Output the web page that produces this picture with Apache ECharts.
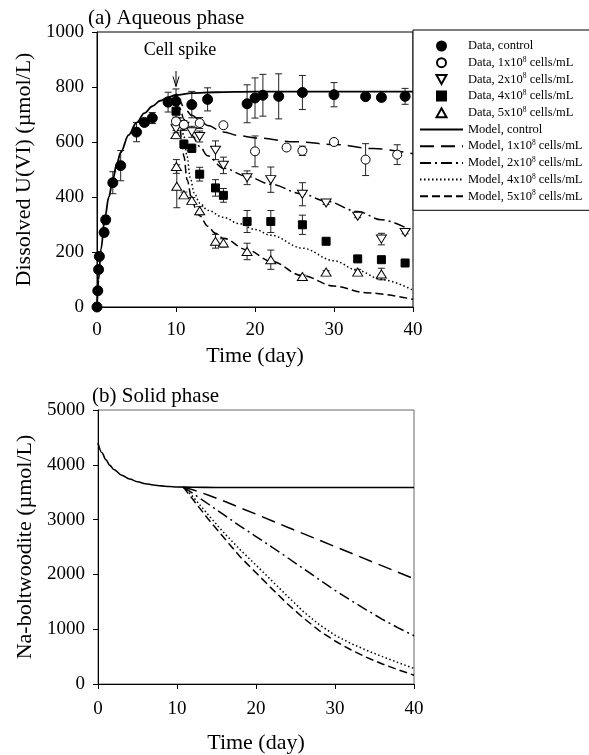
<!DOCTYPE html>
<html>
<head>
<meta charset="utf-8">
<script src="https://cdn.jsdelivr.net/npm/echarts@6/dist/echarts.min.js"></script>
<style>
html,body{margin:0;padding:0;background:#fff;}
#chart{width:589px;height:755px;}
</style>
</head>
<body>
<div id="chart"></div>
<script>
// ---------- Data (a) Aqueous phase ----------
const ctrlDays = [0, 0.1, 0.2, 0.3, 0.9, 1.1, 2, 3, 5, 6, 7, 9, 10, 12, 14, 19, 20, 21, 23, 26, 30, 34, 36, 39];
const ctrlVals = [0, 59, 136, 184, 271, 317, 452, 514, 636, 671, 687, 745, 748, 736, 755, 739, 760, 770, 766, 780, 772, 765, 762, 766];
const ctrlErrs = [0, 0, 0, 12, 15, 15, 40, 55, 35, 10, 20, 36, 45, 48, 42, 69, 73, 76, 82, 62, 44, 8, 12, 29];

const c1Days = [10, 11, 13, 16, 20, 24, 26, 30, 34, 38];
const c1Vals = [675, 663, 669, 661, 566, 580, 568, 600, 536, 554];
const c1Errs = [15, 15, 20, 5, 56, 5, 17, 5, 58, 36];

const c2Days = [10, 11, 12, 13, 15, 16, 19, 22, 26, 29, 33, 36, 39];
const c2Vals = [648, 657, 637, 620, 570, 515, 470, 463, 410, 378, 330, 247, 271];
const c2Errs = [15, 15, 20, 20, 34, 30, 25, 46, 42, 5, 5, 21, 5];

const c4Days = [10, 11, 12, 13, 15, 16, 19, 22, 26, 29, 33, 36, 39];
const c4Vals = [712, 592, 577, 483, 433, 406, 311, 311, 299, 239, 175, 172, 160];
const c4Errs = [30, 15, 15, 25, 30, 25, 40, 40, 35, 0, 0, 0, 0];

const c5Days = [10, 10.05, 10.1, 11, 12, 13, 15, 16, 19, 22, 26, 29, 33, 36];
const c5Vals = [627, 511, 439, 408, 388, 350, 239, 233, 202, 172, 111, 127, 127, 120];
const c5Errs = [15, 25, 78, 10, 10, 15, 25, 15, 30, 35, 5, 5, 10, 21];

// Model curves (aqueous)
const mCtrlX = [0, 0.2, 0.5, 1, 1.5, 2, 2.5, 3, 4, 5, 6, 7, 8, 9, 10, 12, 15, 20, 25, 30, 35, 40];
const mCtrlY = [0, 99, 210, 325, 400, 463, 520, 562, 625, 670, 705, 730, 750, 763, 771, 778, 781, 783, 783, 783, 783, 783];
const m1X = [10, 10.5, 11, 12, 13, 14, 16, 18, 20, 25, 30, 35, 40];
const m1Y = [775, 748, 725, 697, 680, 660, 636, 623, 615, 601, 591, 576, 557];
const m2X = [10, 10.5, 11, 11.5, 12, 13, 14, 16, 19, 22, 26, 29, 33, 36, 40];
const m2Y = [775, 722, 683, 652, 625, 584, 550, 505, 475, 446, 411, 385, 347, 317, 275];
const m4X = [10, 10.5, 11, 11.4, 11.8, 12.3, 13, 14, 16, 18, 20, 22, 26, 30, 33, 36, 40];
const m4Y = [775, 700, 620, 548, 470, 415, 378, 352, 326, 303, 282, 261, 214, 168, 133, 100, 61];
const m5X = [10, 10.4, 10.7, 11, 11.4, 12, 12.5, 13, 14, 15, 16, 19, 22, 26, 30, 34, 40];
const m5Y = [775, 690, 610, 548, 463, 392, 358, 332, 294, 268, 250, 208, 167, 114, 76, 52, 28];

// ---------- Data (b) Solid phase ----------
const sCtrlX = [0, 0.5, 1, 1.5, 2, 3, 4, 5, 6, 7, 8, 9, 10, 12, 15, 20, 30, 40];
const sCtrlY = [4400, 4220, 4090, 3990, 3915, 3810, 3740, 3690, 3655, 3632, 3615, 3603, 3595, 3590, 3587, 3585, 3585, 3585];
const s1X = [10.8, 12, 13, 14, 16, 18, 20, 24, 28, 32, 36, 40];
const s1Y = [3592, 3545, 3495, 3445, 3335, 3215, 3100, 2860, 2625, 2390, 2155, 1920];
const s2X = [10.8, 12, 14, 16, 18, 20, 22, 24, 26, 28, 30, 32, 34, 36, 38, 40];
const s2Y = [3592, 3480, 3280, 3080, 2880, 2690, 2500, 2305, 2105, 1905, 1710, 1525, 1350, 1180, 1025, 880];
const s4X = [10.8, 12, 14, 16, 18, 20, 22, 24, 26, 28, 30, 32, 34, 36, 38, 40];
const s4Y = [3592, 3420, 3080, 2750, 2450, 2170, 1885, 1600, 1320, 1085, 890, 740, 615, 500, 390, 285];
const s5X = [10.8, 12, 14, 16, 18, 20, 22, 24, 26, 28, 30, 32, 34, 36, 38, 40];
const s5Y = [3592, 3370, 3000, 2660, 2320, 2030, 1740, 1460, 1205, 975, 785, 625, 485, 365, 260, 160];

const xTicks = [0, 10, 20, 30, 40];
const yTicksA = [0, 200, 400, 600, 800, 1000];
const yTicksB = [0, 1000, 2000, 3000, 4000, 5000];

const names = {
  dC: 'Data, control', d1: 'Data, 1x10^8 cells/mL', d2: 'Data, 2x10^8 cells/mL',
  d4: 'Data, 4x10^8 cells/mL', d5: 'Data, 5x10^8 cells/mL',
  mC: 'Model, control', m1: 'Model, 1x10^8 cells/mL', m2: 'Model, 2x10^8 cells/mL',
  m4: 'Model, 4x10^8 cells/mL', m5: 'Model, 5x10^8 cells/mL'
};

// ---------- Helpers ----------
const FONT = "'Liberation Serif', 'Times New Roman', serif";
const zip = (xs, ys) => xs.map((x, i) => [x, ys[i]]);
const errData = (xs, ys, es) => xs.map((x, i) => [x, ys[i] - es[i], ys[i] + es[i]]).filter((d, i) => es[i] > 0);

function errSeries(xs, ys, es) {
  return {
    type: 'custom', xAxisIndex: 0, yAxisIndex: 0, z: 1, silent: true,
    data: errData(xs, ys, es),
    renderItem: function (params, api) {
      const x = api.value(0);
      const lo = api.coord([x, api.value(1)]);
      const hi = api.coord([x, api.value(2)]);
      const h = 3.5;
      const st = { stroke: '#222', lineWidth: 1 };
      return {
        type: 'group', children: [
          { type: 'line', shape: { x1: lo[0], y1: lo[1], x2: hi[0], y2: hi[1] }, style: st },
          { type: 'line', shape: { x1: lo[0] - h, y1: lo[1], x2: lo[0] + h, y2: lo[1] }, style: st },
          { type: 'line', shape: { x1: hi[0] - h, y1: hi[1], x2: hi[0] + h, y2: hi[1] }, style: st }
        ]
      };
    }
  };
}

function scatter(name, xs, ys, symbol, size, fill) {
  return {
    name: name, type: 'scatter', xAxisIndex: 0, yAxisIndex: 0, z: 3,
    symbol: symbol, symbolSize: size, symbolKeepAspect: true,
    itemStyle: { color: fill, borderColor: '#000', borderWidth: 1, opacity: 1 },
    data: zip(xs, ys)
  };
}

function line(name, xs, ys, grid, dash, width, smooth) {
  return {
    name: name, type: 'line', xAxisIndex: grid, yAxisIndex: grid, z: 2,
    showSymbol: false, symbol: 'none', smooth: smooth, smoothMonotone: 'x',
    lineStyle: { color: '#000', width: width, type: dash },
    itemStyle: { color: '#000' },
    data: zip(xs, ys)
  };
}

const dashes = {
  c: 'solid', d1: [14, 7], d2: [11, 4, 2, 4], d4: [1.5, 2.5], d5: [8, 4]
};

function xAxis(grid, gap, margin) {
  return {
    type: 'value', gridIndex: grid, min: xTicks[0], max: xTicks[xTicks.length - 1],
    interval: xTicks[1] - xTicks[0],
    name: 'Time (day)', nameLocation: 'middle', nameGap: gap,
    nameTextStyle: { fontFamily: FONT, fontSize: 22, color: '#000' },
    axisLine: { show: true, onZero: false, lineStyle: { color: '#000', width: 1 } },
    axisTick: { show: true, inside: false, length: 5, lineStyle: { color: '#000' } },
    axisLabel: { fontFamily: FONT, fontSize: 19, color: '#000', margin: margin, formatter: v => String(v) },
    splitLine: { show: false }
  };
}
function yAxis(grid, ticks, name, gap) {
  return {
    type: 'value', gridIndex: grid, min: ticks[0], max: ticks[ticks.length - 1],
    interval: ticks[1] - ticks[0],
    name: name, nameLocation: 'middle', nameGap: gap,
    nameTextStyle: { fontFamily: FONT, fontSize: 22, color: '#000' },
    axisLine: { show: true, onZero: false, lineStyle: { color: '#000', width: 1 } },
    axisTick: { show: true, inside: false, length: 5, lineStyle: { color: '#000' } },
    axisLabel: { fontFamily: FONT, fontSize: 19, color: '#000', margin: 13, formatter: v => String(v) },
    splitLine: { show: false }
  };
}

const chart = echarts.init(document.getElementById('chart'), null, { renderer: 'canvas' });

const downTri = 'path://M0,0 L10,0 L5,9 Z';
const upTri = 'path://M5,0 L10,9 L0,9 Z';
const square = 'path://M0,0 L10,0 L10,10 L0,10 Z';
const noDot = { color: 'rgba(0,0,0,0)', borderColor: 'rgba(0,0,0,0)', borderWidth: 0 };

const option = {
  backgroundColor: '#fff',
  animation: false,
  title: [
    { text: '(a) Aqueous phase', left: 88, top: 8, padding: 0,
      textStyle: { fontFamily: FONT, fontSize: 21, fontWeight: 'normal', color: '#000' } },
    { text: '(b) Solid phase', left: 92, top: 386, padding: 0,
      textStyle: { fontFamily: FONT, fontSize: 21, fontWeight: 'normal', color: '#000' } }
  ],
  grid: [
    { left: 97, top: 32, width: 316, height: 275, show: true, borderColor: '#000', borderWidth: 1, backgroundColor: 'transparent' },
    { left: 98, top: 410, width: 316, height: 275, show: true, borderColor: '#666', borderWidth: 1, backgroundColor: 'transparent' }
  ],
  xAxis: [xAxis(0, 38, 14), xAxis(1, 48, 16)],
  yAxis: [
    yAxis(0, yTicksA, 'Dissolved U(VI) (µmol/L)', 62),
    yAxis(1, yTicksB, 'Na-boltwoodite (µmol/L)', 61)
  ],
  legend: {
    left: 413, top: 30, orient: 'vertical',
    padding: [9, 40, 7, 6],
    backgroundColor: '#fff', borderColor: '#000', borderWidth: 1,
    itemWidth: 43, itemHeight: 9, itemGap: 2.7,
    z: 10,
    data: [
      { name: names.dC }, { name: names.d1 }, { name: names.d2 }, { name: names.d4 }, { name: names.d5 },
      { name: names.mC, itemStyle: noDot }, { name: names.m1, itemStyle: noDot }, { name: names.m2, itemStyle: noDot },
      { name: names.m4, itemStyle: noDot }, { name: names.m5, itemStyle: noDot }
    ],
    formatter: function (n) { return n.replace('^8', '{sup|8}'); },
    textStyle: {
      fontFamily: FONT, fontSize: 12.5, color: '#000', lineHeight: 14,
      rich: { sup: { fontFamily: FONT, fontSize: 7.5, color: '#000', verticalAlign: 'top', lineHeight: 14, padding: [0, 0, 6, 0] } }
    }
  },
  series: [
    errSeries(ctrlDays, ctrlVals, ctrlErrs),
    errSeries(c1Days, c1Vals, c1Errs),
    errSeries(c2Days, c2Vals, c2Errs),
    errSeries(c4Days, c4Vals, c4Errs),
    errSeries(c5Days, c5Vals, c5Errs),
    line(names.mC, mCtrlX, mCtrlY, 0, dashes.c, 1.8, 0.35),
    line(names.m1, m1X, m1Y, 0, dashes.d1, 1.5, 0.35),
    line(names.m2, m2X, m2Y, 0, dashes.d2, 1.5, 0.35),
    line(names.m4, m4X, m4Y, 0, dashes.d4, 1.5, 0.35),
    line(names.m5, m5X, m5Y, 0, dashes.d5, 1.5, 0.35),
    scatter(names.d5, c5Days, c5Vals, upTri, [10, 9], '#fff'),
    scatter(names.d4, c4Days, c4Vals, square, 8, '#000'),
    scatter(names.d2, c2Days, c2Vals, downTri, [10, 9], '#fff'),
    scatter(names.d1, c1Days, c1Vals, 'circle', 9, '#fff'),
    scatter(names.dC, ctrlDays, ctrlVals, 'circle', 10, '#000'),
    line(names.mC, sCtrlX, sCtrlY, 1, dashes.c, 1.6, 0.35),
    line(names.m1, s1X, s1Y, 1, dashes.d1, 1.5, false),
    line(names.m2, s2X, s2Y, 1, dashes.d2, 1.5, false),
    line(names.m4, s4X, s4Y, 1, dashes.d4, 1.5, false),
    line(names.m5, s5X, s5Y, 1, dashes.d5, 1.5, false)
  ]
};
chart.setOption(option);

// Cell spike annotation, positioned from data coordinates (day 10)
const spikeDay = 10;
const pText = chart.convertToPixel({ gridIndex: 0 }, [spikeDay, 935]);
const pA0 = chart.convertToPixel({ gridIndex: 0 }, [spikeDay, 858]);
const pA1 = chart.convertToPixel({ gridIndex: 0 }, [spikeDay, 802]);
chart.setOption({
  graphic: [
    { type: 'text', x: pText[0] + 4, y: pText[1], z: 20,
      style: { text: 'Cell spike', fontFamily: FONT, fontSize: 18, fill: '#000', align: 'center', verticalAlign: 'middle' } },
    { type: 'line', z: 20, shape: { x1: pA0[0], y1: pA0[1], x2: pA1[0], y2: pA1[1] }, style: { stroke: '#000', lineWidth: 1 } },
    { type: 'polyline', z: 20, shape: { points: [[pA1[0] - 3, pA1[1] - 10], [pA1[0], pA1[1]], [pA1[0] + 3, pA1[1] - 10]] },
      style: { stroke: '#000', lineWidth: 1, fill: null } }
  ]
});
</script>
</body>
</html>
